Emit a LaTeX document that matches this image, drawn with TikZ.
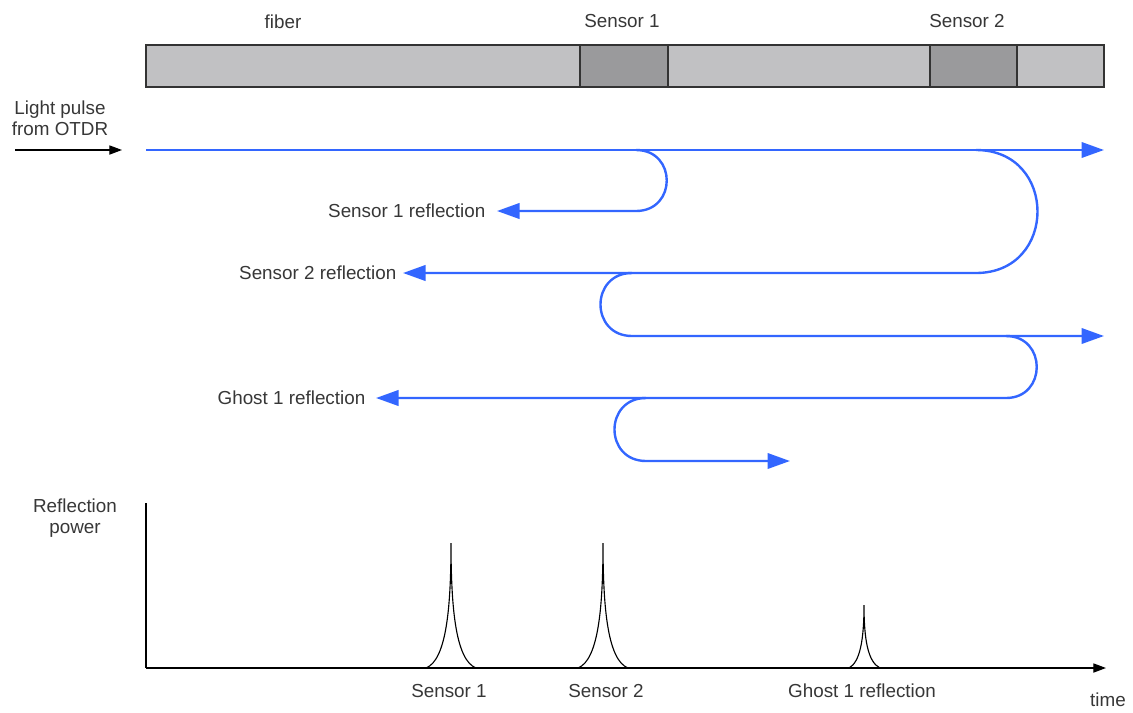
\documentclass[tikz,border=0pt]{standalone}
\usepackage{fontspec}
\setmainfont{Liberation Sans}
\usetikzlibrary{arrows.meta}
\definecolor{ray}{RGB}{51,102,255}
\definecolor{fibfill}{RGB}{193,193,195}
\definecolor{senfill}{RGB}{154,154,156}
\definecolor{txt}{RGB}{55,55,55}
\tikzset{
  lbl/.style={text=txt,font=\fontsize{13.4pt}{15pt}\selectfont,inner sep=1pt,align=center},
  seg/.style={draw=black!80,line width=0.9pt},
  blueray/.style={draw=ray,line width=1.7pt,-{Triangle[length=16pt,width=11pt]}},
  blackarr/.style={draw=black,line width=0.9pt,-{Triangle[length=9pt,width=6.5pt]}},
  plotline/.style={draw=black,line width=0.8pt}
}
\begin{document}
\begin{tikzpicture}[x=0.025cm,y=-0.025cm]
\useasboundingbox (0,0) rectangle (1133,712);
% fiber bar
\draw[seg,fill=fibfill] (146,45) rectangle (580,87);
\draw[seg,fill=senfill] (580,45) rectangle (668,87);
\draw[seg,fill=fibfill] (668,45) rectangle (930,87);
\draw[seg,fill=senfill] (930,45) rectangle (1017,87);
\draw[seg,fill=fibfill] (1017,45) rectangle (1104,87);
\node[lbl] (fiber) at (283,22) {fiber};
\node[lbl] (s1) at (622,21) {Sensor 1};
\node[lbl] (s2) at (967,21) {Sensor 2};
% incoming pulse
\node[lbl] (pulse) at (60,118) {Light pulse\\from OTDR};
\coordinate (pin) at (15,150);
\coordinate (pout) at (122,150);
\draw[blackarr] (pin) -- (pout);
% rays
\coordinate (start) at (146,150);
\coordinate (fwdend) at (1104,150);
\draw[blueray] (start) -- (fwdend);
% sensor 1 reflection
\coordinate (a1) at (636,150);
\coordinate (a2) at (636,211);
\coordinate (a3) at (497,211);
\node[lbl,anchor=east] (s1r) at (487,211) {Sensor 1 reflection};
\draw[blueray] (a1) .. controls (677,150) and (677,211) .. (a2) -- (a3);
% sensor 2 reflection
\coordinate (b1) at (976,150);
\coordinate (b2) at (976,273);
\coordinate (b3) at (403,273);
\node[lbl,anchor=east] (s2r) at (398,273) {Sensor 2 reflection};
\draw[blueray] (b1) .. controls (1058,150) and (1058,273) .. (b2) -- (b3);
% re-reflection forward
\coordinate (c1) at (632,273);
\coordinate (c2) at (632,336);
\coordinate (c3) at (1104,336);
\draw[blueray] (c1) .. controls (590,273) and (590,336) .. (c2) -- (c3);
% ghost reflection
\coordinate (d1) at (1006,336);
\coordinate (d2) at (1006,398);
\coordinate (d3) at (376,398);
\node[lbl,anchor=east] (gr) at (367,398) {Ghost 1 reflection};
\draw[blueray] (d1) .. controls (1047,336) and (1047,398) .. (d2) -- (d3);
% last forward
\coordinate (e1) at (646,398);
\coordinate (e2) at (646,461);
\coordinate (e3) at (790,461);
\draw[blueray] (e1) .. controls (604,398) and (604,461) .. (e2) -- (e3);
% bottom plot
\coordinate (org) at (146,668);
\coordinate (ytop) at (146,503);
\coordinate (xend) at (1106,668);
\draw[plotline] (ytop) -- (org);
\draw[blackarr] (org) -- (xend);
\node[lbl] (rp) at (75,518) {Reflection\\power};
\node[lbl] (time) at (1108,700) {time};
% peaks
\draw[plotline] (426,668) .. controls (446,660) and (451,610) .. (451,543) .. controls (451,610) and (456,660) .. (476,668);
\draw[plotline] (578,668) .. controls (598,660) and (603,610) .. (603,543) .. controls (603,610) and (608,660) .. (628,668);
\draw[plotline] (849,668) .. controls (860,662) and (864,640) .. (864,605) .. controls (864,640) and (868,662) .. (880,668);
\node[lbl] (ps1) at (449,691) {Sensor 1};
\node[lbl] (ps2) at (606,691) {Sensor 2};
\node[lbl] (pg) at (862,691) {Ghost 1 reflection};
\end{tikzpicture}
\end{document}
